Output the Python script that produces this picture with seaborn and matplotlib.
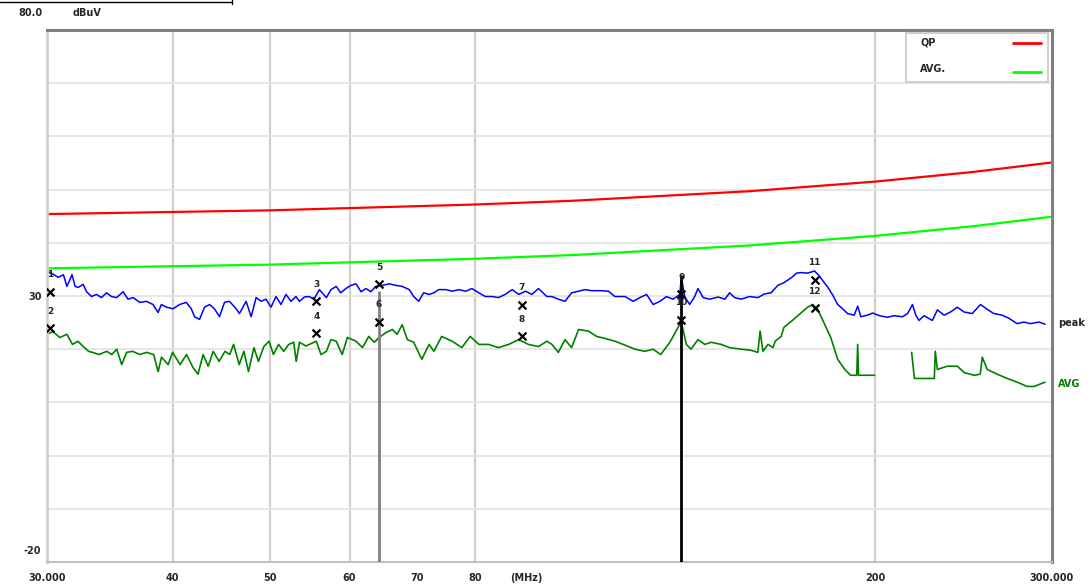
import matplotlib
matplotlib.use("Agg")
import matplotlib.pyplot as plt
import seaborn as sns
from matplotlib.lines import Line2D
from matplotlib.patches import Rectangle
from matplotlib.ticker import NullLocator
from matplotlib.transforms import blended_transform_factory, ScaledTranslation

# limit lines (MHz, dBuV)
limit_freq = [30, 50, 80, 100, 150, 200, 250, 300]
qp_limit = [45.4, 46.1, 47.2, 47.9, 49.7, 51.5, 53.3, 55.1]
avg_limit = [35.2, 35.9, 37.0, 37.7, 39.5, 41.3, 43.1, 44.9]

# peak scan (blue)
peak_freq = [
    30.0, 30.43, 30.78, 31.15, 31.4, 31.77, 32.0, 32.22, 32.59, 32.85,
    33.22, 33.6, 33.99, 34.38, 34.78, 35.18, 35.71, 36.12, 36.54, 37.1,
    37.67, 38.25, 38.69, 38.99, 39.44, 40.04, 40.65, 41.28, 41.75, 42.07,
    42.55, 43.04, 43.54, 44.03, 44.54, 45.05, 45.57, 46.27, 46.62, 47.34,
    47.89, 48.44, 48.99, 49.55, 50.12, 50.7, 51.28, 51.87, 52.47, 53.07,
    53.5, 54.1, 54.7, 55.3, 56.0, 56.9, 57.5, 58.2, 58.8, 59.5,
    60.2, 60.9, 61.6, 62.3, 63.0, 63.7, 64.7, 65.7, 66.7, 67.7,
    68.8, 69.5, 70.3, 71.1, 72.0, 72.8, 73.6, 74.8, 75.9, 77.1,
    78.3, 79.4, 80.7, 81.9, 83.2, 84.4, 85.7, 87.1, 88.4, 89.8,
    91.1, 92.5, 94.3, 95.4, 96.8, 98.3, 99.8, 101.4, 102.9, 104.5,
    106.8, 108.6, 110.2, 112.8, 114.9, 116.7, 118.5, 120.3, 122.2, 124.0,
    125.9, 127.9, 128.3, 129.3, 130.8, 132.3, 133.3, 134.9, 136.9, 139.6,
    141.8, 143.3, 145.0, 147.2, 150.0, 152.9, 155.3, 157.6, 160.1, 162.3,
    165.0, 167.1, 168.8, 171.4, 174.1, 176.0, 177.4, 179.4, 181.5, 183.6,
    185.7, 187.8, 190.7, 192.2, 193.6, 196.6, 198.9, 202.0, 205.8, 209.0,
    213.0, 215.5, 217.9, 219.6, 221.2, 223.8, 228.1, 230.7, 234.3, 237.8,
    241.5, 245.2, 249.9, 254.7, 258.6, 262.6, 267.6, 271.8, 277.0, 281.3,
    285.6, 291.1, 295.3,
]
peak_level = [
    34.6, 34.1, 33.5, 34.0, 31.8, 34.0, 31.8, 31.6, 32.2, 30.8,
    29.9, 30.3, 29.7, 30.6, 29.9, 29.7, 30.8, 29.4, 29.7, 28.8,
    29.0, 28.4, 26.9, 28.4, 27.9, 27.6, 28.4, 28.8, 27.6, 26.1,
    25.6, 27.9, 28.4, 27.6, 26.1, 28.8, 29.0, 27.6, 26.7, 29.0,
    26.1, 29.7, 29.0, 29.4, 27.9, 29.9, 28.4, 30.3, 29.0, 29.9,
    29.0, 29.8, 29.9, 29.4, 31.2, 29.7, 31.2, 31.8, 30.6, 31.4,
    32.0, 32.3, 30.8, 31.4, 30.8, 31.8, 32.0, 32.3, 32.0, 31.8,
    31.2, 29.9, 29.0, 30.6, 30.3, 30.6, 31.2, 31.2, 30.9, 31.2,
    30.9, 31.4, 30.6, 29.9, 29.9, 29.7, 30.3, 31.2, 30.3, 30.9,
    30.3, 31.4, 29.9, 29.9, 29.4, 29.0, 30.6, 30.9, 31.2, 31.0,
    31.0, 30.9, 29.9, 29.9, 29.0, 29.7, 30.3, 28.4, 29.0, 29.9,
    29.4, 30.3, 33.7, 29.9, 28.4, 29.9, 31.4, 29.7, 29.4, 29.8,
    29.4, 30.6, 29.7, 29.4, 29.9, 29.7, 30.4, 30.6, 32.0, 32.5,
    33.4, 34.3, 34.4, 34.3, 34.7, 33.8, 32.9, 31.7, 30.2, 28.4,
    27.6, 26.7, 26.4, 28.1, 26.1, 26.4, 26.8, 26.3, 26.0, 26.3,
    26.1, 26.7, 28.4, 26.4, 25.4, 26.3, 25.4, 27.4, 26.4, 27.0,
    27.9, 27.0, 26.7, 28.4, 27.5, 26.7, 26.4, 25.8, 24.8, 25.1,
    24.8, 25.1, 24.7,
]

# average scan (dark green)
avg_freq = [
    30.0, 30.4, 30.9, 31.4, 31.8, 32.2, 32.6, 33.0, 33.3, 33.8,
    34.4, 34.8, 35.2, 35.6, 36.0, 36.5, 37.1, 37.7, 38.3, 38.7,
    39.0, 39.6, 40.0, 40.7, 41.3, 41.9, 42.4, 42.9, 43.4, 43.9,
    44.5, 45.1, 45.6, 46.0, 46.6, 47.1, 47.6, 48.2, 48.7, 49.3,
    49.9, 50.4, 51.0, 51.6, 52.2, 52.8, 53.1, 53.5, 54.3, 55.6,
    56.2, 56.9, 57.5, 58.2, 59.0, 59.7, 60.9, 61.8, 62.7, 63.5,
    64.2, 65.2, 66.2, 66.9, 67.7, 68.5, 69.5, 70.8, 72.0, 72.8,
    74.1, 75.9, 77.6, 79.1, 80.7, 82.5, 84.4, 86.4, 88.4, 90.4,
    92.5, 94.3, 95.4, 96.8, 98.3, 99.8, 101.4, 103.7, 105.7, 107.8,
    110.2, 112.3, 115.4, 118.0, 120.3, 122.4, 125.0, 128.3, 129.8, 131.2,
    133.3, 135.4, 137.4, 140.6, 143.3, 147.2, 150.5, 152.9, 153.7, 154.7,
    156.5, 158.3, 159.1, 161.3, 162.3, 165.0, 167.1, 171.4, 173.4, 175.4,
    178.2, 180.7, 183.6, 186.6, 189.1, 191.8, 192.2, 192.6, 195.3, 199.8,
    217.5, 218.9, 225.5, 229.1, 229.6, 230.7, 236.0, 241.5, 245.4, 251.0,
    254.5, 255.7, 258.6, 264.6, 270.8, 277.0, 283.4, 288.0, 295.2,
]
avg_level = [
    22.8, 23.3, 22.2, 22.8, 20.9, 21.5, 20.5, 19.6, 19.4, 19.0,
    19.6, 19.0, 20.0, 17.1, 19.4, 19.6, 19.0, 19.4, 19.0, 15.8,
    18.5, 17.1, 19.4, 17.1, 19.0, 16.6, 15.3, 19.0, 16.8, 19.6,
    17.7, 19.6, 19.0, 20.9, 17.1, 19.6, 15.8, 20.3, 17.7, 20.5,
    21.5, 19.0, 20.9, 19.6, 20.9, 21.3, 17.7, 21.3, 20.6, 21.5,
    19.0, 19.6, 21.8, 21.5, 19.0, 22.2, 21.5, 20.3, 22.4, 21.3,
    22.2, 23.1, 23.7, 22.8, 24.6, 21.8, 21.3, 18.1, 20.9, 19.6,
    22.4, 21.5, 20.3, 22.4, 20.9, 20.9, 20.3, 20.9, 21.8, 20.9,
    20.5, 21.5, 20.9, 19.4, 21.8, 20.3, 23.7, 23.4, 22.4, 22.0,
    21.5, 20.9, 20.0, 19.6, 20.0, 19.0, 21.3, 25.2, 20.9, 20.0,
    21.8, 20.9, 21.3, 20.9, 20.3, 20.0, 19.8, 19.4, 23.4, 19.6,
    20.9, 20.3, 21.5, 22.4, 24.1, 25.2, 26.1, 27.9, 28.4, 27.5,
    24.7, 22.2, 18.1, 16.2, 15.1, 15.1, 20.9, 15.1, 15.1, 15.1,
    19.4, 14.5, 14.5, 14.5, 19.6, 16.2, 16.8, 16.8, 15.6, 15.1,
    15.3, 18.5, 16.2, 15.3, 14.5, 13.8, 13.0, 13.0, 13.8,
]
avg_segment = [0 if f < 205 else 1 for f in avg_freq]

# final measurement markers
marker_freq = [30.2, 30.2, 55.6, 55.6, 64.2, 64.2, 89.0, 89.0, 128.3, 128.3, 174.2, 174.2]
marker_level = [30.8, 23.9, 29.0, 23.0, 32.2, 25.2, 28.4, 22.4, 30.3, 25.5, 33.1, 27.7]
marker_label = [str(i) for i in range(1, 13)]

cursor_freq = [64.2, 128.3]
cursor_top = [31.0, 34.0]
cursor_color = ['#808080', '#000000']

tick_freq = [30, 40, 50, 60, 70, 80, 90, 200, 300]
tick_text = ['30.000', '40', '50', '60', '70', '80', '(MHz)', '200', '300.000']
grid_freq = [40, 50, 60, 80, 200]

sns.set_style("white")
plt.rcParams['font.family'] = ['DejaVu Sans']
plt.rcParams['font.weight'] = 'bold'

fig = plt.figure(figsize=(10.92, 5.87), dpi=100)
ax = fig.add_axes([47 / 1092, 25 / 587, 1005 / 1092, 532 / 587])
ax.set_xscale('log')
ax.set_xlim(30, 300)
ax.set_ylim(-20, 80)

# grid
ax.vlines(grid_freq, -20, 80, color='#d4d0c8', lw=1.6, zorder=0)
ax.hlines(list(range(-10, 80, 10)), 30, 300, color='#e4e4e4', lw=1.3, zorder=0)

# limits
sns.lineplot(x=limit_freq, y=qp_limit, color='#ff0000', lw=1.6, ax=ax)
sns.lineplot(x=limit_freq, y=avg_limit, color='#00ff00', lw=1.6, ax=ax)

# traces
sns.lineplot(x=peak_freq, y=peak_level, color='#0000ff', lw=1.1,
             estimator=None, sort=False, ax=ax)
sns.lineplot(x=avg_freq, y=avg_level, units=avg_segment, color='#008000', lw=1.2,
             estimator=None, sort=False, ax=ax)

# cursors and markers
ax.vlines(cursor_freq, -20, cursor_top, colors=cursor_color, lw=2, zorder=4)
sns.scatterplot(x=marker_freq, y=marker_level, marker='x', color='black', s=32,
                linewidth=1.6, ax=ax, zorder=5)
for f, v, lab in zip(marker_freq, marker_level, marker_label):
    ax.text(f, v + 3.2, lab, ha='center', va='center', fontsize=6.5, zorder=5)

# axes styling
ax.set_xticks(tick_freq)
ax.set_xticklabels(tick_text)
ax.xaxis.set_minor_locator(NullLocator())
ax.set_yticks([-20, 30])
ax.set_yticklabels(['-20', '30'])
ax.tick_params(axis='both', length=0, labelsize=7)
ax.tick_params(axis='x', pad=8)
ax.tick_params(axis='y', pad=4)
ylabs = ax.get_yticklabels()
ylabs[0].set_va('bottom')
ylabs[0].set_transform(ylabs[0].get_transform() + ScaledTranslation(0, 4 / 72, fig.dpi_scale_trans))
ax.set_xlabel('')
ax.set_ylabel('')

ax.spines['top'].set_color('#808080')
ax.spines['top'].set_linewidth(2.2)
ax.spines['right'].set_color('#808080')
ax.spines['right'].set_linewidth(2.2)
ax.spines['left'].set_color('#d4d0c8')
ax.spines['left'].set_linewidth(2)
ax.spines['bottom'].set_color('#c0c0c0')
ax.spines['bottom'].set_linewidth(1.5)

# legend box
ax.add_patch(Rectangle((0.8547, 0.902), 0.1413, 0.092, transform=ax.transAxes,
                       facecolor='white', edgecolor='#d4d0c8', lw=1.5, zorder=6))
ax.plot([0.961, 0.989], [0.9756, 0.9756], transform=ax.transAxes, color='#ff0000', lw=2, zorder=7)
ax.plot([0.961, 0.989], [0.921, 0.921], transform=ax.transAxes, color='#00ff00', lw=2, zorder=7)
ax.text(0.8687, 0.977, 'QP', transform=ax.transAxes, fontsize=7, va='center', zorder=7)
ax.text(0.8687, 0.927, 'AVG.', transform=ax.transAxes, fontsize=7, va='center', zorder=7)

# trace names on right
trans = blended_transform_factory(ax.transAxes, ax.transData)
ax.text(1.006, 25.0, 'peak', transform=trans, fontsize=7, va='center', clip_on=False)
ax.text(1.006, 13.4, 'AVG', transform=trans, fontsize=7, va='center', color='#008000', clip_on=False)

# header
fig.text(18 / 1092, 1 - 13 / 587, '80.0', fontsize=7, va='center')
fig.text(73 / 1092, 1 - 13 / 587, 'dBuV', fontsize=7, va='center')
fig.add_artist(Line2D([0, 232 / 1092], [1 - 2 / 587, 1 - 2 / 587], color='black', lw=1,
                      transform=fig.transFigure))
fig.add_artist(Line2D([232 / 1092, 232 / 1092], [1, 1 - 4 / 587], color='black', lw=1,
                      transform=fig.transFigure))

fig.savefig('out.png', dpi=100)
